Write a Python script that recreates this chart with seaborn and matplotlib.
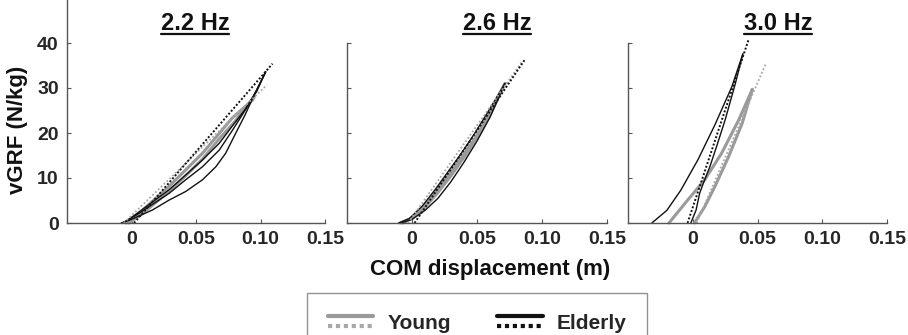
import numpy as np
import pandas as pd
import matplotlib
matplotlib.use("Agg")
import matplotlib.pyplot as plt
import seaborn as sns
from matplotlib.lines import Line2D
from matplotlib.legend_handler import HandlerBase

# ---------------- data ----------------
panel_titles = ["2.2 Hz", "2.6 Hz", "3.0 Hz"]
xtick_vals = [0, 0.05, 0.10, 0.15]
xtick_labels = ["0", "0.05", "0.10", "0.15"]
ytick_vals = [0, 10, 20, 30, 40]

# Panel 1 (2.2 Hz)
p1_eld_a_x = [-0.008, 0.000, 0.0163, 0.0292, 0.042, 0.055, 0.0654, 0.073, 0.080, 0.088, 0.096, 0.104]
p1_eld_a_y = [0.0, 0.8, 2.9, 5.1, 7.0, 9.6, 12.5, 15.5, 19.5, 24.0, 29.0, 33.6]
p1_eld_b_x = [-0.007, 0.004, 0.0292, 0.042, 0.055, 0.068, 0.078, 0.088, 0.097, 0.104]
p1_eld_b_y = [0.0, 1.8, 6.6, 9.6, 12.5, 16.2, 20.5, 25.0, 29.5, 33.6]
p1_eld_c_x = [-0.006, 0.006, 0.0292, 0.055, 0.068, 0.078, 0.088, 0.097, 0.104]
p1_eld_c_y = [0.0, 2.5, 7.4, 14.0, 17.7, 21.5, 25.2, 29.2, 33.6]
p1_yng_a_x = [-0.004, 0.006, 0.029, 0.042, 0.055, 0.068, 0.078, 0.0938, 0.095]
p1_yng_a_y = [0.0, 2.2, 8.1, 11.8, 15.5, 19.9, 23.3, 27.3, 28.0]
p1_yng_b_x = [-0.002, 0.008, 0.029, 0.042, 0.055, 0.068, 0.080, 0.095]
p1_yng_b_y = [0.0, 2.0, 7.0, 10.5, 14.2, 18.7, 22.5, 28.0]
p1_eld_fit_x = [0.002, 0.1093]
p1_eld_fit_y = [0.0, 35.4]
p1_yng_fit_x = [-0.006, 0.105]
p1_yng_fit_y = [0.0, 30.7]

# Panel 2 (2.6 Hz)
p2_eld_a_x = [-0.0104, -0.002, 0.008, 0.018, 0.028, 0.038, 0.048, 0.058, 0.0715]
p2_eld_a_y = [0.0, 1.0, 3.8, 7.5, 11.5, 15.5, 19.8, 24.5, 31.0]
p2_eld_b_x = [-0.008, 0.000, 0.010, 0.020, 0.030, 0.040, 0.050, 0.060, 0.0715]
p2_eld_b_y = [0.0, 0.8, 2.8, 5.5, 9.2, 13.5, 18.2, 23.5, 31.0]
p2_yng_a_x = [-0.007, 0.000, 0.010, 0.020, 0.030, 0.040, 0.050, 0.060, 0.0715]
p2_yng_a_y = [0.0, 1.2, 4.0, 7.5, 11.3, 15.3, 19.5, 24.5, 31.0]
p2_yng_b_x = [-0.009, 0.000, 0.010, 0.020, 0.030, 0.040, 0.050, 0.060, 0.0715]
p2_yng_b_y = [0.0, 1.0, 3.5, 6.8, 10.5, 14.6, 19.0, 24.0, 31.0]
p2_eld_fit_x = [0.002, 0.087]
p2_eld_fit_y = [0.0, 36.4]
p2_yng_fit_x = [-0.003, 0.085]
p2_yng_fit_y = [0.0, 36.0]

# Panel 3 (3.0 Hz)
p3_eld_a_x = [-0.0316, -0.020, -0.0092, 0.0039, 0.0171, 0.0302, 0.0387]
p3_eld_a_y = [0.0, 2.8, 7.3, 14.0, 21.8, 30.3, 37.6]
p3_eld_b_x = [-0.0015, 0.0026, 0.0053, 0.0092, 0.0132, 0.0184, 0.025, 0.0329, 0.0387]
p3_eld_b_y = [0.0, 2.9, 6.6, 9.6, 12.5, 17.0, 22.9, 31.0, 37.6]
p3_yng_a_x = [-0.0184, -0.0039, 0.0092, 0.0223, 0.0355, 0.046]
p3_yng_a_y = [0.0, 5.1, 9.6, 15.5, 22.9, 29.7]
p3_yng_b_x = [0.0013, 0.0092, 0.0171, 0.0276, 0.0381, 0.046]
p3_yng_b_y = [0.0, 3.6, 8.1, 14.7, 22.1, 29.7]
p3_eld_fit_x = [-0.004, 0.0434]
p3_eld_fit_y = [0.0, 41.0]
p3_yng_fit_x = [0.003, 0.0566]
p3_yng_fit_y = [0.0, 35.5]

panels = [
    dict(eld=[(p1_eld_a_x, p1_eld_a_y), (p1_eld_b_x, p1_eld_b_y), (p1_eld_c_x, p1_eld_c_y)],
         yng=[(p1_yng_a_x, p1_yng_a_y), (p1_yng_b_x, p1_yng_b_y)],
         eld_fit=(p1_eld_fit_x, p1_eld_fit_y), yng_fit=(p1_yng_fit_x, p1_yng_fit_y)),
    dict(eld=[(p2_eld_a_x, p2_eld_a_y), (p2_eld_b_x, p2_eld_b_y)],
         yng=[(p2_yng_a_x, p2_yng_a_y), (p2_yng_b_x, p2_yng_b_y)],
         eld_fit=(p2_eld_fit_x, p2_eld_fit_y), yng_fit=(p2_yng_fit_x, p2_yng_fit_y)),
    dict(eld=[(p3_eld_a_x, p3_eld_a_y), (p3_eld_b_x, p3_eld_b_y)],
         yng=[(p3_yng_a_x, p3_yng_a_y), (p3_yng_b_x, p3_yng_b_y)],
         eld_fit=(p3_eld_fit_x, p3_eld_fit_y), yng_fit=(p3_yng_fit_x, p3_yng_fit_y)),
]

# ---------------- style ----------------
sns.set_theme(style="ticks")
plt.rcParams["font.family"] = ["Liberation Sans", "DejaVu Sans"]
plt.rcParams["font.weight"] = "bold"

GREY = "#9a9a9a"
GREY_DOT = "#a8a8a8"
BLACK = "#111111"
SPINE = "#555555"

W, H = 908, 335
fig = plt.figure(figsize=(W / 100, H / 100), dpi=100)

axes_px = [(67, 325), (347, 607), (628, 887)]
top_px, bot_px = 43, 223
title_x_px = [195, 497, 778]


def draw(ax, x, y, color, lw, ls):
    df = pd.DataFrame({"x": x, "y": y})
    sns.lineplot(data=df, x="x", y="y", sort=False, estimator=None, ax=ax,
                 color=color, lw=lw, linestyle=ls, clip_on=False)


for i, (p, (l, r)) in enumerate(zip(panels, axes_px)):
    ax = fig.add_axes([l / W, 1 - bot_px / H, (r - l) / W, (bot_px - top_px) / H])
    for x, y in p["yng"]:
        draw(ax, x, y, GREY, 2.2, "-")
    for x, y in p["eld"]:
        draw(ax, x, y, BLACK, 1.0, "-")
    draw(ax, *p["yng_fit"], GREY_DOT, 1.3, (0, (1, 1.2)))
    draw(ax, *p["eld_fit"], BLACK, 1.4, (0, (1, 1)))

    ax.set_xlim(-0.05, 0.15)
    ax.set_ylim(0, 40)
    ax.set_xticks(xtick_vals)
    ax.set_xticklabels(xtick_labels)
    ax.set_yticks(ytick_vals)
    ax.set_xlabel("")
    ax.set_ylabel("")
    for s in ["top", "right"]:
        ax.spines[s].set_visible(False)
    for s in ["left", "bottom"]:
        ax.spines[s].set_color(SPINE)
        ax.spines[s].set_linewidth(1.0)
    ax.tick_params(direction="in", length=3, width=0.8, color=SPINE,
                   labelsize=14, pad=6)
    for t in ax.get_xticklabels() + ax.get_yticklabels():
        t.set_fontweight("bold")
    if i > 0:
        ax.tick_params(axis="y", labelleft=False)
    else:
        ax.spines["left"].set_bounds(0, bot_px / 4.5)

    fig.text(title_x_px[i] / W, 1 - 30 / H, panel_titles[i], ha="center",
             va="baseline", fontsize=17, fontweight="bold", color="#111111")

fig.text(18 / W, 1 - 130 / H, "vGRF (N/kg)", rotation=90, ha="center",
         va="center", fontsize=16, fontweight="bold", color="#111111")
fig.text(490 / W, 1 - 270 / H, "COM displacement (m)", ha="center",
         va="center", fontsize=16, fontweight="bold", color="#111111")


# ---------------- legend with stacked solid / dotted handles ----------------
class StackedHandler(HandlerBase):
    def create_artists(self, legend, orig_handle, xdescent, ydescent,
                       width, height, fontsize, trans):
        solid, dotted = orig_handle
        x0, x1 = -xdescent, -xdescent + width
        ytop = -ydescent + height * 0.85
        ybot = ytop - 10 * 72 / 100
        l1 = Line2D([x0, x1], [ytop, ytop])
        l1.update_from(solid)
        l2 = Line2D([x0, x1], [ybot, ybot])
        l2.update_from(dotted)
        for a in (l1, l2):
            a.set_transform(trans)
        return [l1, l2]


yng_h = (Line2D([], [], color=GREY, lw=3),
         Line2D([], [], color=GREY_DOT, lw=3, ls=(0, (1, 0.9))))
eld_h = (Line2D([], [], color=BLACK, lw=3),
         Line2D([], [], color=BLACK, lw=3, ls=(0, (1, 0.9))))
leg = fig.legend(handles=[yng_h, eld_h], labels=["Young", "Elderly"],
                 handler_map={tuple: StackedHandler()}, ncol=2,
                 loc="upper center", bbox_to_anchor=(477 / W, 1 - 293 / H),
                 borderaxespad=0, frameon=True, fancybox=False,
                 handlelength=2.2, handletextpad=0.67,
                 columnspacing=2.2, borderpad=1.0,
                 prop={"weight": "bold", "size": 15})
leg.get_frame().set_edgecolor("#777777")
leg.get_frame().set_linewidth(1.0)

# ---------------- underline titles ----------------
fig.canvas.draw()
inv = fig.transFigure.inverted()
for t in fig.texts:
    if t.get_text() in panel_titles:
        bb = t.get_window_extent()
        (fx0, _), (fx1, _) = inv.transform([(bb.x0, 0), (bb.x1, 0)])
        yl = 1 - 33.5 / H
        fig.add_artist(Line2D([fx0, fx1], [yl, yl], color="#111111", lw=1.6,
                              transform=fig.transFigure))

fig.savefig("out.png", dpi=100)
